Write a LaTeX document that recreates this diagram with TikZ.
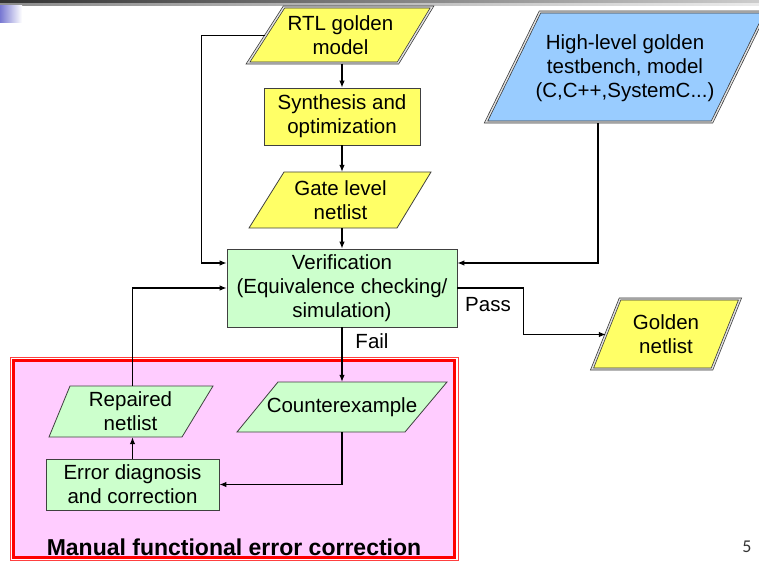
\documentclass[tikz,border=0pt]{standalone}
\usepackage{fontspec}
\setmainfont{Liberation Sans}
\newfontfamily\pagefont{Carlito}
\usetikzlibrary{arrows.meta,calc}
\definecolor{boxyellow}{RGB}{255,255,102}
\definecolor{boxgreen}{RGB}{204,255,204}
\definecolor{boxblue}{RGB}{153,204,255}
\definecolor{boxpink}{RGB}{255,204,255}
\definecolor{boxred}{RGB}{255,0,0}
\definecolor{barblue}{RGB}{120,120,210}
\tikzset{
  txt/.style={inner sep=0pt, align=center, font=\fontsize{20.5}{24}\selectfont},
  rectbox/.style={txt, draw=black!75, line width=0.8pt},
  paraone/.style={draw=black!75, line width=0.8pt},
  paratwo/.style={draw=black!80, line width=0.7pt, double=black!12, double distance=1.4pt},
  conn/.style={draw=black, line width=1.1pt, -{Latex[length=7pt,width=5.5pt]}},
  wire/.style={draw=black, line width=1.1pt},
  lbl/.style={font=\fontsize{20.5}{24}\selectfont, inner sep=0pt},
}
\begin{document}
\begin{tikzpicture}[x=1pt,y=-1pt]
\useasboundingbox (0,0) rectangle (759,561);
\begin{scope}
\clip (0,0) rectangle (759,561);
% top bar
\shade[left color=black!80, right color=black!20] (0,0) rectangle (759,4);
\shade[left color=black!45, right color=black!8] (0,4) rectangle (759,5.5);
\shade[left color=barblue, right color=white] (0,5.5) rectangle (22,23);

% red region
\draw[boxred!75!white, line width=0.7pt] (10,357) rectangle (458,560);
\draw[boxred, fill=boxpink, line width=3pt] (13.5,360.5) rectangle (454.5,557);
\node[font=\bfseries\fontsize{23}{27}\selectfont, inner sep=0pt] (manual) at (234,547) {Manual functional error correction};

% parallelogram shapes
\filldraw[paratwo, fill=boxyellow] (284,7) -- (432,7) -- (398,63) -- (248,63) -- cycle;
\filldraw[paraone, fill=boxyellow] (284,172) -- (431,172) -- (397,228) -- (249,228) -- cycle;
\filldraw[paratwo, fill=boxblue] (540,12) -- (766,12) -- (712,122) -- (486,122) -- cycle;
\filldraw[paratwo, fill=boxyellow] (620,299) -- (740,299) -- (712,369) -- (592,369) -- cycle;
\filldraw[paraone, fill=boxgreen] (70,386) -- (213,386) -- (182,437) -- (49,437) -- cycle;
\filldraw[paraone, fill=boxgreen] (278,382) -- (447,382) -- (405,432) -- (237,432) -- cycle;
\end{scope}

% text nodes of the parallelograms
\node[txt, minimum width=150pt, minimum height=56pt] (rtl) at (340.5,35.5) {RTL golden\\model};
\node[txt, minimum width=147pt, minimum height=56pt] (gate) at (340.5,200) {Gate level\\netlist};
\node[txt, minimum width=226pt, minimum height=110pt] (high) at (625,68) {High-level golden\\testbench, model\\(C,C++,SystemC...)};
\node[txt, minimum width=120pt, minimum height=70pt] (golden) at (666,334.5) {Golden\\netlist};
\node[txt, minimum width=138pt, minimum height=51pt] (repaired) at (130.5,411.5) {Repaired\\netlist};
\node[txt, minimum width=168pt, minimum height=50pt] (counter) at (342,407) {Counterexample};

% rectangles
\node[rectbox, fill=boxyellow, minimum width=156pt, minimum height=57pt] (synth) at (342,116.5) {Synthesis and\\optimization};
\node[rectbox, fill=boxgreen, minimum width=230pt, minimum height=78pt] (verif) at (342,288) {Verification\\(Equivalence checking/\\simulation)};
\node[rectbox, fill=boxgreen, minimum width=173pt, minimum height=51pt] (error) at (132.5,484.5) {Error diagnosis\\and correction};

% connectors
\coordinate (vinL) at ($(verif.west)+(0,-25)$);
\coordinate (vinR) at ($(verif.east)+(0,-25)$);
\draw[conn] (rtl.west) -- ++(-64,0) |- (vinL);
\draw[conn] (rtl.south -| synth.north) -- (synth.north);
\draw[conn] (synth.south) -- (gate.north -| synth.south);
\draw[conn] (gate.south -| verif.north) -- (verif.north);
\draw[conn] ($(high.south)+(-27,0)$) |- (vinR);
\draw[conn] (verif.east) -- ++(66,0) |- (golden.west);
\draw[conn] (verif.south) -- (counter.north);
\draw[conn] (counter.south) |- (error.east);
\draw[conn] (error.north) -- (error.north |- repaired.south);
\draw[conn] (error.north |- repaired.north) |- (verif.west);

% labels
\node[lbl] (pass) at (488,305) {Pass};
\node[lbl] (fail) at (372,341) {Fail};
\node[font=\pagefont\fontsize{18}{20}\selectfont, text=black!80, inner sep=0pt] (page) at (747,547) {5};
\end{tikzpicture}
\end{document}
